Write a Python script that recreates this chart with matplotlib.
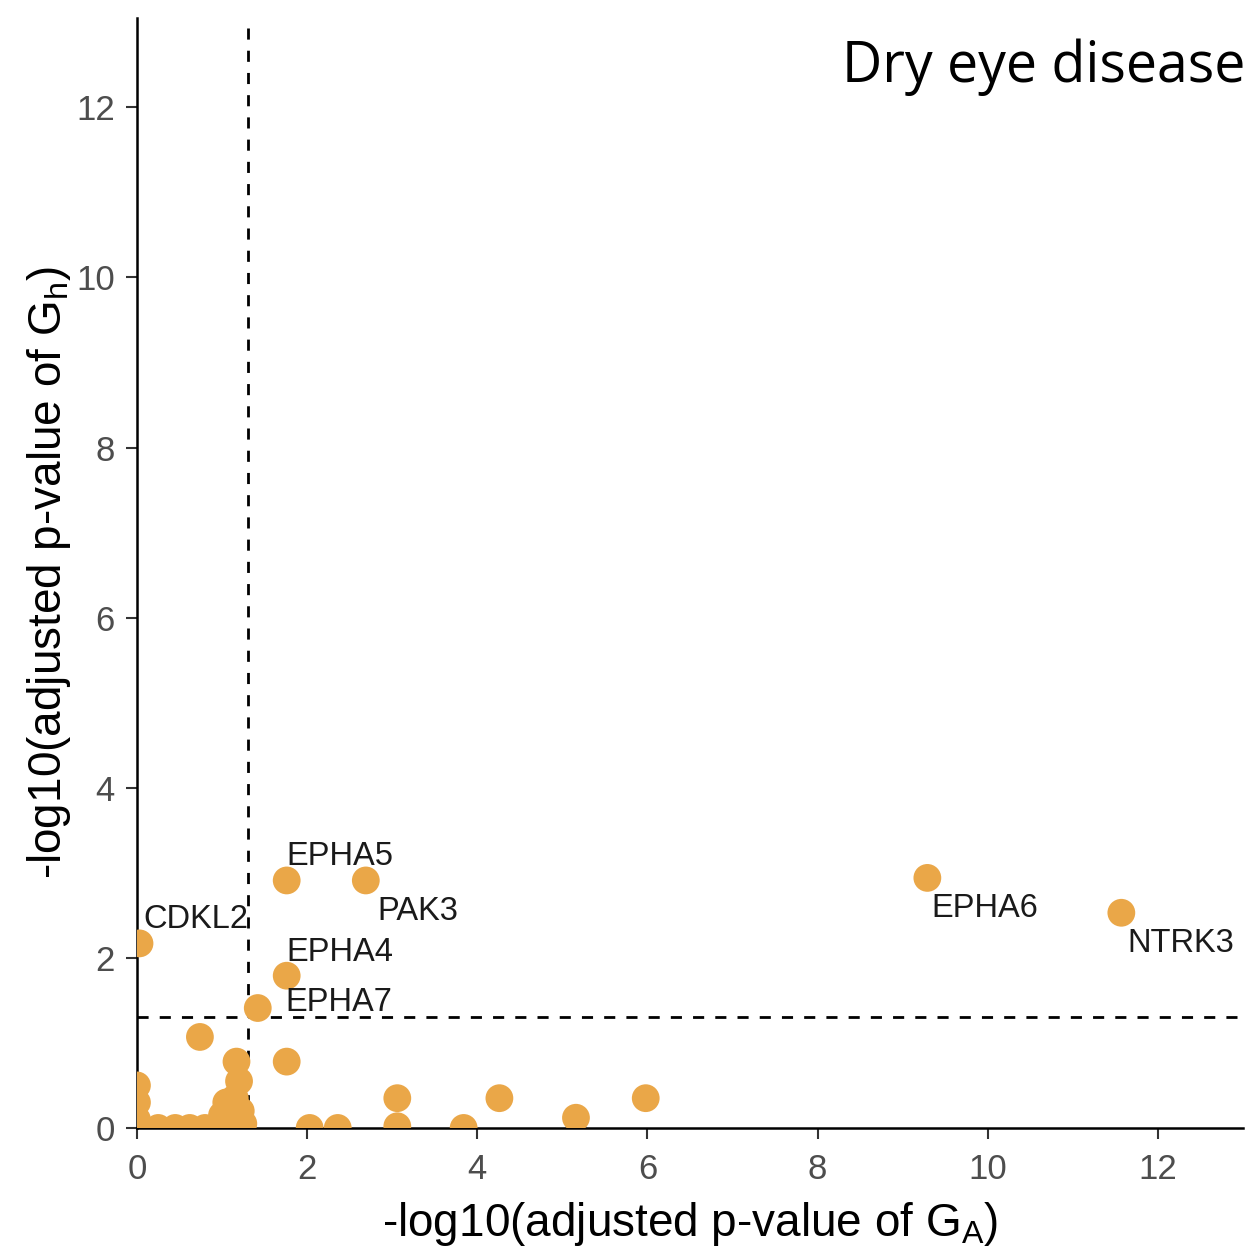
import numpy as np
import matplotlib
matplotlib.use("Agg")
import matplotlib.pyplot as plt

# -log10 adjusted p-values
ga = [0.03, 1.76, 2.69, 1.76, 1.42, 9.29, 11.57,
      0.74, 1.76, 1.17, 3.06, 3.06, 3.84, 4.26, 5.16, 5.98, 2.03, 2.36,
      0.0, 0.0, 0.0, 0.25, 0.45, 0.62, 0.8, 1.0, 1.05, 1.15, 1.2, 1.22, 1.25, 1.1]
gh = [2.17, 2.91, 2.91, 1.79, 1.41, 2.94, 2.53,
      1.07, 0.78, 0.78, 0.35, 0.02, 0.0, 0.35, 0.12, 0.35, 0.0, 0.0,
      0.5, 0.3, 0.1, 0.0, 0.0, 0.0, 0.0, 0.15, 0.3, 0.35, 0.55, 0.2, 0.05, 0.05]
genes = ["CDKL2", "EPHA5", "PAK3", "EPHA4", "EPHA7", "EPHA6", "NTRK3"]

# label offsets in pixels (dx, dy, ha, va)
offsets = {
    "CDKL2": (4, 8, "left", "bottom"),
    "EPHA5": (0, 8, "left", "bottom"),
    "PAK3": (12, -16, "left", "top"),
    "EPHA4": (0, 8, "left", "bottom"),
    "EPHA7": (28, 6, "left", "center"),
    "EPHA6": (4, -15, "left", "top"),
    "NTRK3": (6, -15, "left", "top"),
}

cutoff = -np.log10(0.05)
dot = "#EAA748"

fig = plt.figure(figsize=(12.45, 12.6), dpi=100)
ax = fig.add_axes([0.110, 0.1048, 0.8884, 0.8809])

ax.scatter(ga, gh, s=400, color=dot, edgecolors="none", zorder=3, clip_on=True)
ax.axvline(cutoff, color="black", ls=(0, (4, 4)), lw=2, zorder=2)
ax.axhline(cutoff, color="black", ls=(0, (4, 4)), lw=2, zorder=2)

for i, g in enumerate(genes):
    dx, dy, ha, va = offsets[g]
    ax.annotate(g, (ga[i], gh[i]), xytext=(dx, dy), textcoords="offset pixels",
                ha=ha, va=va, fontsize=23.5, color="#1a1a1a",
                family="Liberation Sans", zorder=4)

ax.set_xlim(0, 13)
ax.set_ylim(0, 13.05)
ax.set_xticks([0, 2, 4, 6, 8, 10, 12])
ax.set_yticks([0, 2, 4, 6, 8, 10, 12])
for s in ["top", "right"]:
    ax.spines[s].set_visible(False)
for s in ["left", "bottom"]:
    ax.spines[s].set_linewidth(1.8)
ax.tick_params(length=8, width=1.5, color="#333333", labelsize=25,
               labelcolor="#4d4d4d")
ax.tick_params(axis="x", pad=10)
ax.tick_params(axis="y", pad=8)
for lab in ax.get_xticklabels() + ax.get_yticklabels():
    lab.set_family("Liberation Sans")

ax.set_xlabel(r"-log10(adjusted p-value of $\mathregular{G_A}$)",
              fontsize=33, family="Liberation Sans", labelpad=10)
ax.set_ylabel(r"-log10(adjusted p-value of $\mathregular{G_h}$)",
              fontsize=33, family="Liberation Sans", labelpad=2)

fig.text(1.0, 0.947, "Dry eye disease", ha="right", va="center",
         fontsize=40, family="Open Sans")

fig.savefig("out.png", dpi=100)
